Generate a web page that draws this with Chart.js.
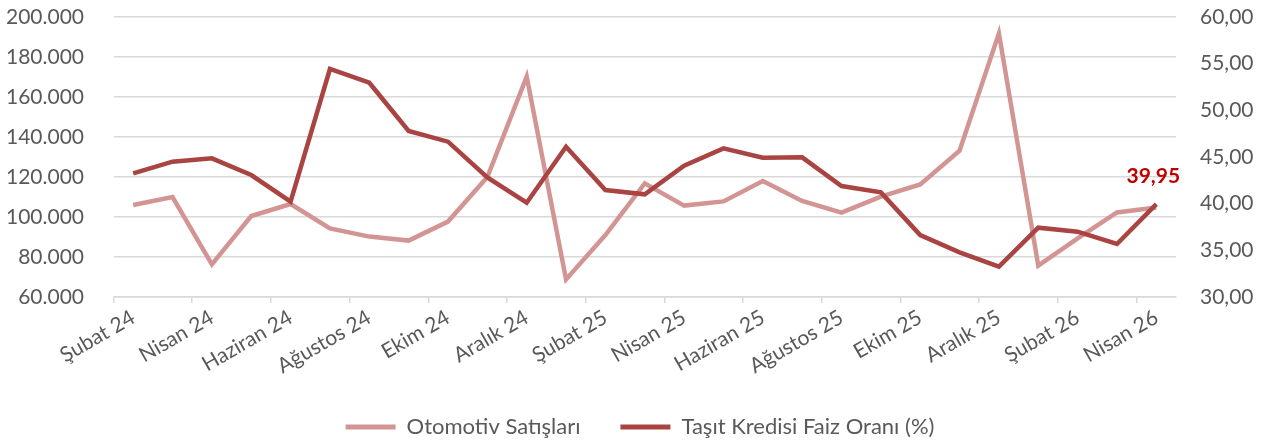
<!DOCTYPE html>
<html lang="tr">
<head>
<meta charset="utf-8">
<script src="https://cdn.jsdelivr.net/npm/chart.js@4/dist/chart.umd.min.js"></script>
<style>
  html, body { margin: 0; padding: 0; background: #ffffff; }
  #wrap { width: 1280px; height: 441px; }
</style>
</head>
<body>
<div id="wrap"><canvas id="otomotivChart" width="1280" height="441"></canvas></div>
<script>
// aylar (Şubat 24 - Nisan 26)
const aylar = ['Şubat 24', 'Mart 24', 'Nisan 24', 'Mayıs 24', 'Haziran 24', 'Temmuz 24', 'Ağustos 24', 'Eylül 24',
    'Ekim 24', 'Kasım 24', 'Aralık 24', 'Ocak 25', 'Şubat 25', 'Mart 25', 'Nisan 25', 'Mayıs 25', 'Haziran 25',
    'Temmuz 25', 'Ağustos 25', 'Eylül 25', 'Ekim 25', 'Kasım 25', 'Aralık 25', 'Ocak 26', 'Şubat 26', 'Mart 26', 'Nisan 26'];

const otomotivSatislari = [106000, 110000, 76300, 100500, 106500, 94300, 90200, 88200, 97700, 120000, 170200, 68800,
    91000, 116800, 105700, 107800, 118000, 108000, 102200, 110200, 116300, 133200, 191800, 75700, 89300, 102300, 104800];

const faizOrani = [43.25, 44.50, 44.86, 43.07, 40.21, 54.43, 52.96, 47.79, 46.64, 42.82, 40.10, 46.10,
    41.46, 41.00, 44.07, 45.93, 44.93, 44.96, 41.89, 41.21, 36.64, 34.79, 33.25, 37.43, 37.00, 35.68, 39.95];

const seriAdlari = ['Otomotiv Satışları', 'Taşıt Kredisi Faiz Oranı (%)'];
const seriRenkleri = ['#D39593', '#A94442'];

const yaziFont = 'Lato';
const yaziRengi = '#595959';
const cizgiRengi = '#D9D9D9';

const legendBosluk = 40;
const legendYukseklik = legendBosluk + 25;

// son faiz değerini kırmızı kalın yaz
const sonDegerEtiketi = {
    id: 'sonDegerEtiketi',
    afterDatasetsDraw(chart) {
        const meta = chart.getDatasetMeta(1);
        const nokta = meta.data[meta.data.length - 1];
        const ctx = chart.ctx;
        ctx.save();
        ctx.font = 'bold 21px ' + yaziFont;
        ctx.fillStyle = '#C00000';
        ctx.textAlign = 'center';
        ctx.textBaseline = 'alphabetic';
        const deger = faizOrani[faizOrani.length - 1].toFixed(2).replace('.', ',');
        ctx.fillText(deger, nokta.x - 3, nokta.y - 21);
        ctx.restore();
    }
};

const ctx = document.getElementById('otomotivChart').getContext('2d');

new Chart(ctx, {
    type: 'line',
    data: {
        labels: aylar,
        datasets: [{
            label: seriAdlari[0],
            data: otomotivSatislari,
            yAxisID: 'y',
            borderColor: seriRenkleri[0],
            backgroundColor: seriRenkleri[0],
            borderWidth: 4.5,
            pointRadius: 0,
            tension: 0,
            order: 1
        }, {
            label: seriAdlari[1],
            data: faizOrani,
            yAxisID: 'y1',
            borderColor: seriRenkleri[1],
            backgroundColor: seriRenkleri[1],
            borderWidth: 4.5,
            pointRadius: 0,
            tension: 0,
            order: 0
        }]
    },
    options: {
        responsive: false,
        animation: false,
        layout: { padding: { top: 17, left: 0, right: 0, bottom: 0 } },
        plugins: {
            tooltip: { enabled: false },
            legend: {
                position: 'bottom',
                maxHeight: legendYukseklik,
                labels: {
                    font: { family: yaziFont, size: 22 },
                    color: yaziRengi,
                    boxWidth: 50,
                    boxHeight: 5,
                    padding: legendBosluk,
                    generateLabels(chart) {
                        return chart.data.datasets.map((ds, i) => ({
                            text: ds.label,
                            fillStyle: ds.borderColor,
                            strokeStyle: ds.borderColor,
                            lineWidth: 0,
                            fontColor: yaziRengi,
                            hidden: false,
                            datasetIndex: i
                        }));
                    }
                }
            }
        },
        scales: {
            x: {
                offset: true,
                grid: {
                    offset: true,
                    drawOnChartArea: false,
                    drawTicks: true,
                    tickLength: 6,
                    lineWidth: 1.5,
                    tickColor: (c) => (c.index % 2 === 0 ? cizgiRengi : 'rgba(0,0,0,0)')
                },
                border: { display: true, color: cizgiRengi, width: 1.5 },
                ticks: {
                    autoSkip: false,
                    minRotation: 30,
                    maxRotation: 30,
                    padding: 2,
                    color: yaziRengi,
                    font: { family: yaziFont, size: 21 },
                    callback: (v, i) => (i % 2 === 0 ? aylar[i] : '')
                },
                afterFit(scale) { scale.height = 441 - legendYukseklik - 297; }
            },
            y: {
                position: 'left',
                min: 60000,
                max: 200000,
                ticks: {
                    stepSize: 20000,
                    padding: 4,
                    color: yaziRengi,
                    font: { family: yaziFont, size: 21 },
                    callback: (v) => v.toLocaleString('tr-TR')
                },
                // görünmez tik çizgisi etiketleri sola iter
                grid: { color: cizgiRengi, lineWidth: 1.5, drawTicks: true, tickLength: 25.5, tickColor: 'rgba(0,0,0,0)' },
                border: { display: false },
                afterFit(scale) { scale.width = 113.5; }
            },
            y1: {
                position: 'right',
                min: 30,
                max: 60,
                ticks: {
                    stepSize: 5,
                    padding: 4,
                    color: yaziRengi,
                    font: { family: yaziFont, size: 21 },
                    callback: (v) => v.toFixed(2).replace('.', ',')
                },
                grid: { drawOnChartArea: false, drawTicks: true, tickLength: 20, tickColor: 'rgba(0,0,0,0)' },
                border: { display: false },
                afterFit(scale) { scale.width = 104; }
            }
        }
    },
    plugins: [sonDegerEtiketi]
});
</script>
</body>
</html>
